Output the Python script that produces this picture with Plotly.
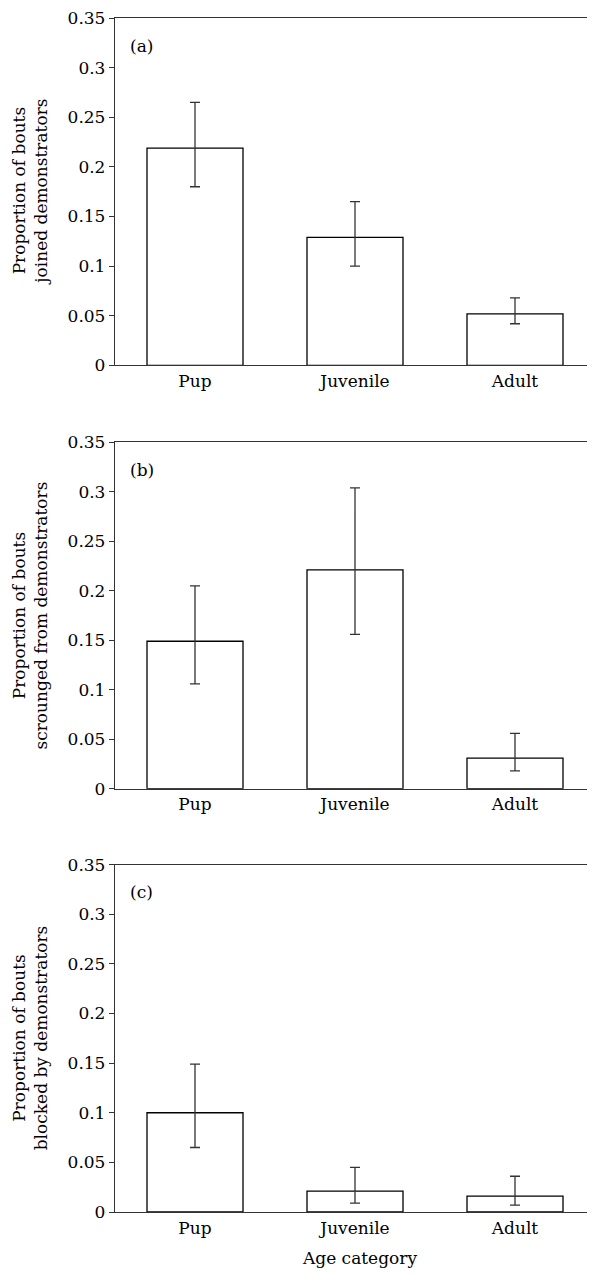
import plotly.graph_objects as go

categories = ["Pup", "Juvenile", "Adult"]

joined = [0.219, 0.129, 0.052]
joined_hi = [0.265, 0.165, 0.068]
joined_lo = [0.180, 0.100, 0.042]

scrounged = [0.149, 0.221, 0.031]
scrounged_hi = [0.205, 0.304, 0.056]
scrounged_lo = [0.106, 0.156, 0.018]

blocked = [0.100, 0.021, 0.016]
blocked_hi = [0.149, 0.045, 0.036]
blocked_lo = [0.065, 0.009, 0.007]

panel_labels = ["(a)", "(b)", "(c)"]
y_titles = [
    "Proportion of bouts<br>joined demonstrators",
    "Proportion of bouts<br>scrounged from demonstrators",
    "Proportion of bouts<br>blocked by demonstrators",
]
x_title = "Age category"
y_ticks = [0, 0.05, 0.1, 0.15, 0.2, 0.25, 0.3, 0.35]
y_ticktext = ["0", "0.05", "0.1", "0.15", "0.2", "0.25", "0.3", "0.35"]

FONT = "DejaVu Serif"
FS = 17
OFF = 8  # page body margin
W, H = 595 - OFF, 1275 - OFF
mt, mb, ml, mr = 16 - OFF, 63, 115 - OFF, 0
plot_h = H - mt - mb
plot_w = W - ml - mr

def frac(ypix):
    return (H - mb - (ypix - OFF)) / plot_h

domains = [
    [frac(364), frac(16)],
    [frac(788), frac(441)],
    [frac(1212), frac(864)],
]

series = [
    (joined, joined_hi, joined_lo),
    (scrounged, scrounged_hi, scrounged_lo),
    (blocked, blocked_hi, blocked_lo),
]

fig = go.Figure()
for i, (vals, hi, lo) in enumerate(series):
    xa = "x" if i == 0 else f"x{i+1}"
    ya = "y" if i == 0 else f"y{i+1}"
    fig.add_trace(go.Bar(
        x=categories, y=vals,
        width=0.6,
        marker=dict(color="white", line=dict(color="black", width=1.3)),
        error_y=dict(type="data", symmetric=False,
                     array=[h - v for h, v in zip(hi, vals)],
                     arrayminus=[v - l for v, l in zip(vals, lo)],
                     color="#333333", thickness=1.3, width=5),
        xaxis=xa, yaxis=ya, showlegend=False,
    ))

layout = dict(
    width=W, height=H,
    margin=dict(l=ml, r=mr, t=mt, b=mb),
    plot_bgcolor="white", paper_bgcolor="white",
    font=dict(family=FONT, size=FS, color="black"),
    showlegend=False,
)
annotations = []
for i in range(3):
    xk = "xaxis" if i == 0 else f"xaxis{i+1}"
    yk = "yaxis" if i == 0 else f"yaxis{i+1}"
    ya_ref = "y" if i == 0 else f"y{i+1}"
    xa_ref = "x" if i == 0 else f"x{i+1}"
    layout[xk] = dict(
        domain=[0, 1], anchor=ya_ref, type="category",
        categoryorder="array", categoryarray=categories,
        range=[-0.5, 2.5], showgrid=False, zeroline=False,
        showline=True, linecolor="#333333", linewidth=1.3, mirror=True,
        ticks="", tickfont=dict(family=FONT, size=FS, color="black"),
        fixedrange=True,
    )
    layout[yk] = dict(
        domain=domains[i], anchor=xa_ref,
        range=[0, 0.35], tickvals=y_ticks, ticktext=y_ticktext,
        showgrid=False, zeroline=False,
        showline=True, linecolor="#333333", linewidth=1.3,
        ticks="outside", ticklen=5, tickcolor="#333333", tickwidth=1.3,
        tickfont=dict(family=FONT, size=FS, color="black"),
        ticklabeloverflow="allow",
        fixedrange=True,
    )
    annotations.append(dict(
        text=panel_labels[i], xref=f"{xa_ref} domain", yref=f"{ya_ref} domain",
        x=0.027, y=0.92, xanchor="left", yanchor="middle", showarrow=False,
        font=dict(family=FONT, size=FS, color="black"),
    ))
    annotations.append(dict(
        text=y_titles[i], xref="paper", yref="paper",
        x=(30 - OFF - ml) / plot_w, y=(domains[i][0] + domains[i][1]) / 2,
        xanchor="center", yanchor="middle", textangle=-90, showarrow=False,
        font=dict(family=FONT, size=FS, color="black"),
    ))

annotations.append(dict(
    text=x_title, xref="paper", yref="paper",
    x=(359 - OFF - ml) / plot_w, y=frac(1258),
    xanchor="center", yanchor="middle", showarrow=False,
    font=dict(family=FONT, size=FS, color="black"),
))
layout["annotations"] = annotations
fig.update_layout(**layout)
fig.write_html("out.html")
